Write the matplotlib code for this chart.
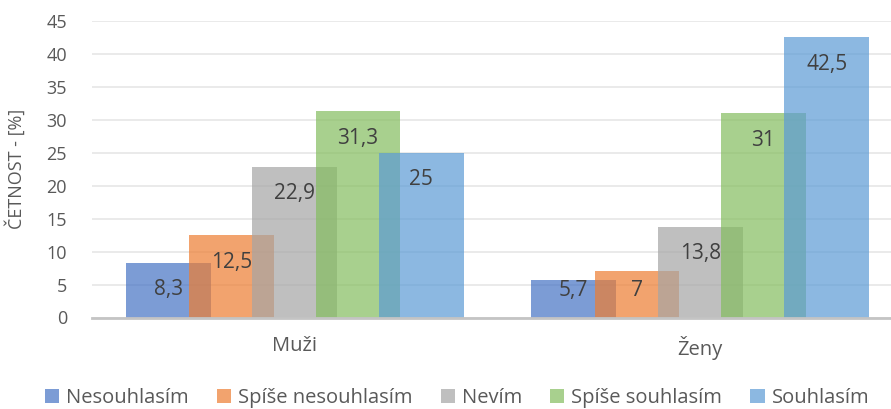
import matplotlib
matplotlib.use("Agg")
import matplotlib.pyplot as plt
import numpy as np

categories = ["Muži", "Ženy"]
series_names = ["Nesouhlasím", "Spíše nesouhlasím", "Nevím", "Spíše souhlasím", "Souhlasím"]
values = {
    "Nesouhlasím": [8.3, 5.7],
    "Spíše nesouhlasím": [12.5, 7],
    "Nevím": [22.9, 13.8],
    "Spíše souhlasím": [31.3, 31],
    "Souhlasím": [25, 42.5],
}
labels = {
    "Nesouhlasím": ["8,3", "5,7"],
    "Spíše nesouhlasím": ["12,5", "7"],
    "Nevím": ["22,9", "13,8"],
    "Spíše souhlasím": ["31,3", "31"],
    "Souhlasím": ["25", "42,5"],
}
colors = ["#4472C4", "#ED7D31", "#A5A5A5", "#84BD5E", "#5B9BD5"]
yticks = [0, 5, 10, 15, 20, 25, 30, 35, 40, 45]

plt.rcParams['font.family'] = ['Open Sans', 'DejaVu Sans']

fig = plt.figure(figsize=(8.91, 4.09), dpi=100)
ax = fig.add_axes([92/891, 1 - 317.5/409, (891 - 92)/891, (317.5 - 21)/409])

x = np.arange(len(categories))
width = 0.209
step = 0.156
handles = []
for i, name in enumerate(series_names):
    pos = x + (i - 2) * step
    b = ax.bar(pos, values[name], width=width, color=colors[i], alpha=0.7,
               zorder=3 + i, linewidth=0, label=name)
    handles.append(b)
    for px, v, lab in zip(pos, values[name], labels[name]):
        cy = max(v - 4.1, 4.1)
        ax.text(px, cy, lab, ha='center', va='center', fontsize=15,
                color='#404040', zorder=20)

ax.set_xlim(-0.5, (891 - 294) / 406)
ax.set_ylim(0, 45)
ax.set_yticks(yticks)
ax.set_yticklabels([str(t) for t in yticks])
ax.set_xticks(x)
ax.set_xticklabels(categories)
ax.tick_params(axis='y', length=0, labelsize=13, colors='#595959', pad=18)
ax.tick_params(axis='x', length=0, labelsize=14.5, colors='#595959', pad=13)
ax.grid(axis='y', color='#E6E6E6', linewidth=1.2, zorder=0)
ax.set_axisbelow(True)
for s in ['top', 'right', 'left']:
    ax.spines[s].set_visible(False)
ax.spines['bottom'].set_color('#C4C4C4')
ax.spines['bottom'].set_linewidth(2)
ax.spines['bottom'].set_zorder(30)

fig.text(15/891, 1 - 169/409, "ČETNOST - [%]", rotation=90, ha='center', va='center',
         fontsize=13, color='#595959')

leg = fig.legend(handles=handles, loc='center', bbox_to_anchor=(457/891, 1 - 398/409),
                 ncol=5, frameon=False, fontsize=14.5, handlelength=0.7, handleheight=0.7,
                 handletextpad=0.35, columnspacing=1.4, labelcolor='#595959')

fig.savefig("out.png", dpi=100)
